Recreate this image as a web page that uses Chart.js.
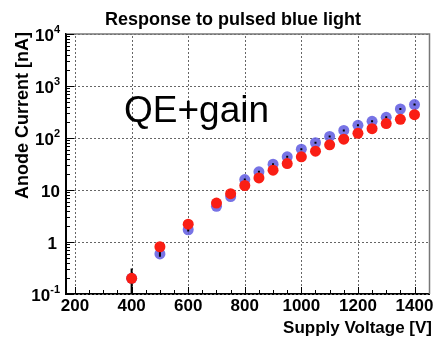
<!DOCTYPE html>
<html>
<head>
<meta charset="utf-8">
<script src="https://cdn.jsdelivr.net/npm/chart.js@4/dist/chart.umd.min.js"></script>
<style>
  body { margin: 0; background: #fff; }
  canvas { display: block; }
</style>
</head>
<body>
<canvas id="responseChart" width="435" height="339"></canvas>
<script>

const voltages = [400, 500, 600, 700, 750, 800, 850, 900, 950, 1000, 1050, 1100, 1150, 1200, 1250, 1300, 1350, 1400];

const redCurrent = [0.2, 0.81, 2.2, 5.6, 8.5, 12.2, 17.1, 24, 32.3, 43.5, 55.8, 74, 95, 123, 151, 189, 229, 281];

const blueCurrent = [0.2, 0.59, 1.72, 4.85, 7.5, 15.9, 22.4, 31.4, 43.5, 61, 81, 107, 140, 175, 209, 250, 361, 439];

const blueError = [0.11, 0.07, 0.12, 0.3, 0.4, 0.6, 0.8, 1.0, 1.4, 2.0, 2.6, 3.4, 4.4, 5.5, 6.5, 8, 11, 13];

const xTicks = [200, 400, 600, 800, 1000, 1200, 1400];

const xMinorTicks = [250, 300, 350, 450, 500, 550, 650, 700, 750, 850, 900, 950, 1050, 1100, 1150, 1250, 1300, 1350];

const yTicks = [0.1, 1, 10, 100, 1000, 10000];

const yTickBase = ["10", "1", "10", "10", "10", "10"];

const yTickExp = ["-1", "", "", "2", "3", "4"];

const FONT = "'Liberation Sans', Arial, Helvetica, sans-serif";

// dotted grid, ticks pointing inwards and the frame
function drawFrame(chart) {

    const ctx = chart.ctx;
    const x = chart.scales.x;
    const y = chart.scales.y;
    const area = chart.chartArea;

    ctx.save();

    ctx.strokeStyle = "#666";
    ctx.lineWidth = 1;
    ctx.setLineDash([2, 2]);

    xTicks.forEach(v => {
        const px = Math.round(x.getPixelForValue(v)) + 0.5;
        ctx.beginPath();
        ctx.moveTo(px, area.bottom);
        ctx.lineTo(px, area.top);
        ctx.stroke();
    });

    yTicks.forEach(v => {
        const py = Math.round(y.getPixelForValue(v)) + 0.5;
        ctx.beginPath();
        ctx.moveTo(area.left, py);
        ctx.lineTo(area.right, py);
        ctx.stroke();
    });

    ctx.setLineDash([]);

    // top and right frame
    ctx.strokeStyle = "#777";
    ctx.lineWidth = 1.5;
    ctx.beginPath();
    ctx.moveTo(area.left, area.top);
    ctx.lineTo(area.right, area.top);
    ctx.lineTo(area.right, area.bottom);
    ctx.stroke();

    ctx.strokeStyle = "#000";
    ctx.lineWidth = 1;

    xTicks.forEach(v => {
        const px = Math.round(x.getPixelForValue(v)) + 0.5;
        ctx.beginPath();
        ctx.moveTo(px, area.bottom);
        ctx.lineTo(px, area.bottom - 7);
        ctx.stroke();
    });

    xMinorTicks.forEach(v => {
        const px = Math.round(x.getPixelForValue(v)) + 0.5;
        ctx.beginPath();
        ctx.moveTo(px, area.bottom);
        ctx.lineTo(px, area.bottom - 4);
        ctx.stroke();
    });

    for (let d = 0; d < yTicks.length; d++) {

        const base = yTicks[d];
        const py = Math.round(y.getPixelForValue(base)) + 0.5;

        ctx.beginPath();
        ctx.moveTo(area.left, py);
        ctx.lineTo(area.left + 8, py);
        ctx.stroke();

        if (d === yTicks.length - 1) continue;

        for (let m = 2; m <= 9; m++) {
            const my = Math.round(y.getPixelForValue(base * m)) + 0.5;
            ctx.beginPath();
            ctx.moveTo(area.left, my);
            ctx.lineTo(area.left + 4, my);
            ctx.stroke();
        }

    }

    ctx.restore();

}

const frame = {

    id: "frame",

    beforeDatasetsDraw(chart) {
        drawFrame(chart);
    }

};

// error bars for the blue points, drawn before the red points go on top
const errorBars = {

    id: "errorBars",

    afterDatasetDraw(chart, args) {

        if (args.index !== 1) return;

        const ctx = chart.ctx;
        const x = chart.scales.x;
        const y = chart.scales.y;
        const area = chart.chartArea;

        ctx.save();
        ctx.beginPath();
        ctx.rect(area.left, area.top, area.right - area.left, area.bottom - area.top);
        ctx.clip();

        ctx.strokeStyle = "#000";
        ctx.lineWidth = 2;

        voltages.forEach((v, i) => {

            const px = x.getPixelForValue(v);
            const lo = Math.max(blueCurrent[i] - blueError[i], 0.01);
            let top = y.getPixelForValue(blueCurrent[i] + blueError[i]);
            let bot = y.getPixelForValue(lo);

            if (bot - top < 2) {
                const mid = (top + bot) / 2;
                top = mid - 1;
                bot = mid + 1;
            }

            ctx.beginPath();
            ctx.moveTo(px, top);
            ctx.lineTo(px, bot);
            ctx.stroke();

        });

        ctx.restore();

    }

};

// tick labels, titles and the annotation
const labels = {

    id: "labels",

    afterDraw(chart) {

        const ctx = chart.ctx;
        const x = chart.scales.x;
        const y = chart.scales.y;

        ctx.save();
        ctx.fillStyle = "#000";

        ctx.font = "bold 17px " + FONT;
        ctx.textAlign = "center";
        ctx.textBaseline = "alphabetic";

        xTicks.forEach(v => {
            ctx.fillText(String(v), x.getPixelForValue(v), 311);
        });

        yTicks.forEach((v, i) => {

            const py = y.getPixelForValue(v);
            const exp = yTickExp[i];
            const base = yTickBase[i];

            ctx.font = "bold 11px " + FONT;
            const expWidth = exp ? ctx.measureText(exp).width : 0;

            ctx.font = "bold 17px " + FONT;
            ctx.textAlign = "right";

            const right = (base === "1" && !exp) ? 57 : 60;
            const baseRight = right - expWidth;

            ctx.fillText(base, baseRight, py + 7);

            if (exp) {
                ctx.font = "bold 11px " + FONT;
                ctx.textAlign = "left";
                ctx.fillText(exp, baseRight, py - 1);
            }

        });

        ctx.font = "bold 18px " + FONT;
        ctx.textAlign = "center";
        ctx.fillText("Response to pulsed blue light", 233, 25);

        ctx.font = "bold 17px " + FONT;
        ctx.textAlign = "right";
        ctx.fillText("Supply Voltage [V]", 432, 333);

        ctx.save();
        ctx.translate(28, 32);
        ctx.rotate(-Math.PI / 2);
        ctx.font = "bold 18px " + FONT;
        ctx.textAlign = "right";
        ctx.fillText("Anode Current [nA]", 0, 0);
        ctx.restore();

        ctx.font = "37px " + FONT;
        ctx.textAlign = "left";
        ctx.fillText("QE+gain", 124, 122);

        ctx.restore();

    }

};

new Chart(

    document.getElementById("responseChart"),

    {

        type: "scatter",

        data: {

            datasets: [

                {
                    label: "red",
                    data: voltages.map((v, i) => ({ x: v, y: redCurrent[i] })),
                    backgroundColor: "rgb(250, 30, 20)",
                    borderWidth: 0,
                    pointRadius: 5.5,
                    order: 0
                },

                {
                    label: "blue",
                    data: voltages.map((v, i) => ({ x: v, y: blueCurrent[i] })),
                    backgroundColor: "rgba(95, 90, 225, 0.85)",
                    borderWidth: 0,
                    pointRadius: 5.5,
                    order: 1
                }

            ]

        },

        options: {

            responsive: false,
            animation: false,

            layout: {
                padding: { top: 34, right: 4, left: 0, bottom: 0 }
            },

            plugins: {
                legend: { display: false },
                tooltip: { enabled: false }
            },

            scales: {

                x: {
                    type: "linear",
                    min: 168,
                    max: 1453,
                    afterBuildTicks: scale => {
                        scale.ticks = xTicks.map(v => ({ value: v }));
                    },
                    afterFit: scale => {
                        scale.height = 45;
                    },
                    ticks: { display: false },
                    grid: { display: false },
                    border: { display: true, color: "#000", width: 2 }
                },

                y: {
                    type: "logarithmic",
                    min: 0.1,
                    max: 10000,
                    afterBuildTicks: scale => {
                        scale.ticks = yTicks.map(v => ({ value: v }));
                    },
                    afterFit: scale => {
                        scale.width = 66;
                    },
                    ticks: { display: false },
                    grid: { display: false },
                    border: { display: true, color: "#000", width: 2 }
                }

            }

        },

        plugins: [frame, errorBars, labels]

    }

);

</script>
</body>
</html>
